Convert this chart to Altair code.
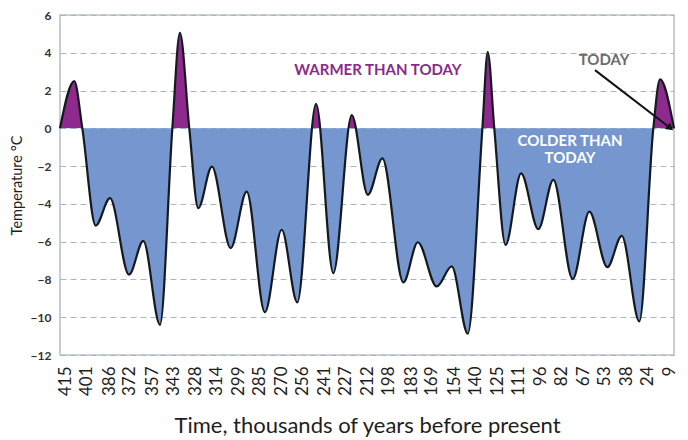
import altair as alt
import pandas as pd

# Temperature curve (thousands of years before present, deg C relative to today)
kyr = [419.0, 409.4, 404.0, 395.0, 385.4, 372.6, 363.0, 351.8, 343.5, 338.4, 332.1,
       326.1, 316.9, 304.3, 293.5, 281.3, 270.0, 259.5, 246.9, 235.3, 222.9, 212.1,
       202.3, 188.2, 178.5, 165.8, 155.7, 144.9, 135.1, 131.5, 127.1, 119.5, 109.1,
       97.5, 87.4, 74.4, 63.2, 51.1, 41.4, 29.6, 20.2, 15.7, 6.3]
temp = [0, 2.50, 0, -5.15, -3.70, -7.75, -5.96, -10.4, 0, 5.06, 0,
        -4.23, -2.03, -6.34, -3.35, -9.74, -5.37, -9.22, 1.29, -7.67, 0.70, -3.52,
        -1.59, -8.16, -6.03, -8.37, -7.31, -10.87, 0, 4.05, 0, -6.17, -2.38,
        -5.34, -2.73, -7.98, -4.41, -7.35, -5.69, -10.22, 0, 2.59, 0]

x_ticks = [415, 401, 386, 372, 357, 343, 328, 314, 299, 285, 270, 256, 241, 227, 212,
           198, 183, 169, 154, 140, 125, 111, 96, 82, 67, 53, 38, 24, 9]
y_ticks = [-12, -10, -8, -6, -4, -2, 0, 2, 4, 6]

# annotations
ann_text = ["WARMER THAN TODAY", "COLDER THAN", "TODAY", "TODAY"]
ann_kyr = [205.3, 76.2, 76.2, 53.3]
ann_temp = [3.08, -0.66, -1.55, 3.61]
ann_color = ["#8b2a8c", "#ffffff", "#ffffff", "#6b6b6b"]

arrow_kyr = [59.4, 8.8]
arrow_temp = [3.08, 0.02]

WARM = "#8e2a8e"
COLD = "#7596cf"

df = pd.DataFrame({"kyr": kyr, "temp": temp})
vmax, vmin = max(temp), min(temp)
off = vmax / (vmax - vmin)

x_scale = alt.Scale(domain=[419.0, 6.3], nice=False, zero=False)
y_scale = alt.Scale(domain=[-12, 6], nice=False, zero=False)

x_axis = alt.Axis(values=x_ticks, labelAngle=270, labelFontSize=17, labelFont="Lato",
                  labelColor="#1e1e1e", labelPadding=11, ticks=False, domain=False, grid=False,
                  labelOverlap=False, title="Time, thousands of years before present",
                  titleFont="Lato", titleFontSize=22, titleFontWeight="normal",
                  titleColor="#1e1e1e", titleBaseline="alphabetic", titleY=77, titleX=307)
y_axis = alt.Axis(values=y_ticks, labelFontSize=12, labelFont="Lato", labelFontWeight="bold",
                  labelColor="#333333", labelPadding=9, ticks=False, domain=False, grid=True,
                  gridDash=[6, 4], gridColor="#a9b6bd", gridWidth=1.2,
                  title="Temperature °C", titleFont="Lato", titleFontSize=14.5,
                  titleFontWeight="normal", titleColor="#1e1e1e", titleX=-43, titleY=170,
                  titleBaseline="middle", titleAngle=270)

X = alt.X("kyr:Q", scale=x_scale, axis=x_axis)
Y = alt.Y("temp:Q", scale=y_scale, axis=y_axis)

grad = {"gradient": "linear", "x1": 0, "y1": 0, "x2": 0, "y2": 1,
        "stops": [{"offset": 0, "color": WARM}, {"offset": off, "color": WARM},
                  {"offset": off, "color": COLD}, {"offset": 1, "color": COLD}]}

area = alt.Chart(df).mark_area(interpolate="monotone", color=grad).encode(
    x=X, y=Y, y2=alt.datum(0))
line = alt.Chart(df).mark_line(interpolate="monotone", color="#141a1e", strokeWidth=2.2).encode(
    x=X, y=Y)

ann_df = pd.DataFrame({"kyr": ann_kyr, "temp": ann_temp, "txt": ann_text, "col": ann_color})
texts = alt.Chart(ann_df).mark_text(font="Lato", fontWeight="bold", fontSize=15,
                                    baseline="middle").encode(
    x=X, y=Y, text="txt:N", color=alt.Color("col:N", scale=None))

arrow_df = pd.DataFrame({"kyr": arrow_kyr, "temp": arrow_temp})
arrow_line = alt.Chart(arrow_df).mark_line(color="#111111", strokeWidth=2).encode(x=X, y=Y)
arrow_head = alt.Chart(arrow_df.tail(1)).mark_point(shape="triangle-right", filled=True,
                                                    color="#111111", size=70, angle=37.6,
                                                    opacity=1).encode(x=X, y=Y)

chart = alt.layer(area, line, texts, arrow_line, arrow_head).properties(
    width=614, height=340, autosize="none",
    padding={"left": 52, "top": 7, "right": 6, "bottom": 84},
    background="white",
).configure_view(stroke="#b9c3c8", strokeWidth=1.6)

chart.save("out.html", embed_options={"renderer": "svg", "actions": False})
